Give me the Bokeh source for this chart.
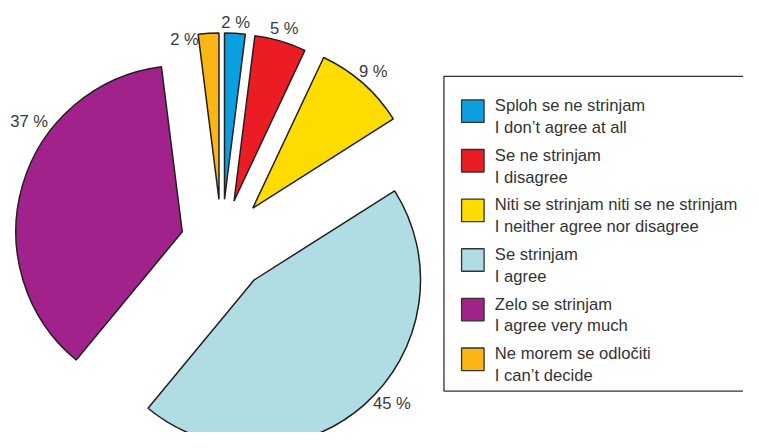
import numpy as np
from bokeh.plotting import figure
from bokeh.models import Range1d, ColumnDataSource
from bokeh.embed import file_html
from bokeh.resources import INLINE
from bokeh.core.properties import value

# ---- data ----
categories_sl = ["Sploh se ne strinjam", "Se ne strinjam",
                 "Niti se strinjam niti se ne strinjam", "Se strinjam",
                 "Zelo se strinjam", "Ne morem se odločiti"]
categories_en = ["I don’t agree at all", "I disagree",
                 "I neither agree nor disagree", "I agree",
                 "I agree very much", "I can’t decide"]
percent = [2, 5, 9, 45, 37, 2]
colors = ["#0b9fdf", "#ec1c24", "#ffdc00", "#afdde3", "#a0228a", "#fbb615"]

# ---- styles ----
explode = [45, 45, 48, 50, 42, 45]
label_angle_shift = [0, 0, 0, -6.7, 19.7, -8.6]
label_dist = [181, 184, 186, 189, 193, 167]
H = 448.0           # reference canvas height (data y = H - pixel y)
CX, CY = 226.0, H - 250.0
R = 170.0
FONT = "Liberation Sans"
FSIZE = "16.6px"

p = figure(width=743, height=432, x_range=Range1d(0, 759), y_range=Range1d(H - 443.3, H - 2),
           output_backend="svg", toolbar_location=None, min_border=0,
           x_axis_type=None, y_axis_type=None)
p.grid.visible = False
p.outline_line_color = None
p.background_fill_color = "white"

pct = np.array(percent, dtype=float)
cum = np.concatenate([[0], np.cumsum(pct)]) * 360.0 / pct.sum()
th1, th2 = cum[:-1], cum[1:]
mid = (th1 + th2) / 2
ex = np.array(explode, dtype=float)
vx = CX + ex * np.sin(np.radians(mid))
vy = CY + ex * np.cos(np.radians(mid))

src = ColumnDataSource(dict(
    x=vx, y=vy,
    start=np.radians(90 - th2), end=np.radians(90 - th1),
    color=colors))
p.wedge(x="x", y="y", radius=R, start_angle="start", end_angle="end",
        direction="anticlock", fill_color="color", line_color="#231f20",
        line_width=1.5, source=src)

la = np.radians(mid + np.array(label_angle_shift))
ld = np.array(label_dist, dtype=float)
lsrc = ColumnDataSource(dict(
    x=vx + ld * np.sin(la), y=vy + ld * np.cos(la),
    t=[f"{v} %" for v in percent]))
p.text(x="x", y="y", text="t", source=lsrc, text_align="center",
       text_baseline="middle", text_font=value(FONT), text_font_size=FSIZE,
       text_color="#3a3a3a")

# ---- legend ----
p.quad(left=453, right=775, top=H - 79.5, bottom=H - 401, fill_color=None,
       line_color="#333333", line_width=1.3)
n = len(percent)
sy = H - (115 + 50.7 * np.arange(n))
p.rect(x=[482.5] * n, y=sy, width=23, height=23, fill_color=colors,
       line_color="#333333", line_width=1.3)
p.text(x=[505] * n, y=sy + 5.7, text=categories_sl, text_align="left",
       text_baseline="alphabetic", text_font=value(FONT), text_font_size=FSIZE,
       text_color="#333333")
p.text(x=[505] * n, y=sy - 16.7, text=categories_en, text_align="left",
       text_baseline="alphabetic", text_font=value(FONT), text_font_size=FSIZE,
       text_color="#333333")

open("out.html", "w").write(file_html(p, INLINE))
